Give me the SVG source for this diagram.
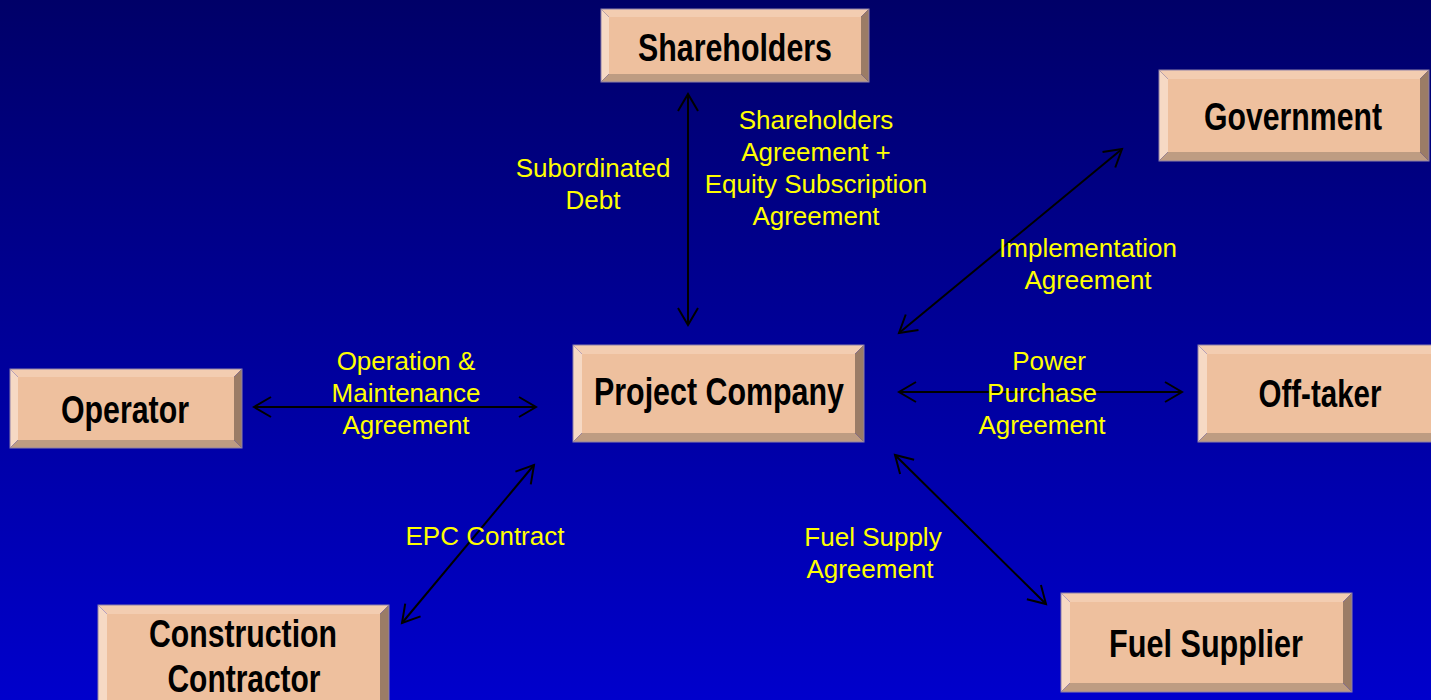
<svg xmlns="http://www.w3.org/2000/svg" width="1431" height="700" viewBox="0 0 1431 700">
  <defs>
    <linearGradient id="bg" x1="0" y1="0" x2="0" y2="1">
      <stop offset="0" stop-color="#000068"/>
      <stop offset="1" stop-color="#0000CC"/>
    </linearGradient>
    <marker id="head" markerUnits="userSpaceOnUse" viewBox="-20 -12 24 24" markerWidth="24" markerHeight="24" refX="0" refY="0" orient="auto-start-reverse">
      <path d="M-17,-10 L0,0 L-17,10" fill="none" stroke="#000" stroke-width="2"/>
    </marker>
    <style>
      .face { fill: #EEC09E; }
      .top { fill: #F3CDB1; }
      .left { fill: #F6D9C4; }
      .right { fill: #9B7C66; }
      .bottom { fill: #BE9C82; }
      .edge { fill: none; stroke: #8E80A8; stroke-width: 1; }
      .name { font-family: "Liberation Sans", Arial, sans-serif; font-weight: bold; font-size: 38px; fill: #000; text-anchor: middle; }
      .lbl { font-family: "Liberation Sans", Arial, sans-serif; font-size: 26px; fill: #FFFF00; text-anchor: middle; }
      .link { stroke: #000; stroke-width: 2; fill: none; marker-start: url(#head); marker-end: url(#head); }
    </style>
  </defs>

  <rect x="0" y="0" width="1431" height="700" fill="url(#bg)"/>

  <!-- connectors -->
  <g id="connectors">
    <line class="link" x1="688" y1="94" x2="688" y2="325"/>
    <line class="link" x1="1122" y1="149" x2="899" y2="333"/>
    <line class="link" x1="254" y1="407" x2="536" y2="407"/>
    <line class="link" x1="899" y1="392" x2="1182" y2="392"/>
    <line class="link" x1="534" y1="465" x2="402" y2="623"/>
    <line class="link" x1="895" y1="455" x2="1046" y2="604"/>
  </g>

  <!-- connector labels -->
  <g id="labels">
    <text class="lbl" x="593" y="177">Subordinated</text>
    <text class="lbl" x="593" y="209">Debt</text>
    <text class="lbl" x="816" y="129">Shareholders</text>
    <text class="lbl" x="816" y="161">Agreement +</text>
    <text class="lbl" x="816" y="193">Equity Subscription</text>
    <text class="lbl" x="816" y="225">Agreement</text>
    <text class="lbl" x="1088" y="257">Implementation</text>
    <text class="lbl" x="1088" y="289">Agreement</text>
    <text class="lbl" x="406" y="370">Operation &amp;</text>
    <text class="lbl" x="406" y="402">Maintenance</text>
    <text class="lbl" x="406" y="434">Agreement</text>
    <text class="lbl" x="1049" y="370">Power</text>
    <text class="lbl" x="1042" y="402">Purchase</text>
    <text class="lbl" x="1042" y="434">Agreement</text>
    <text class="lbl" x="485" y="545">EPC Contract</text>
    <text class="lbl" x="873" y="546">Fuel Supply</text>
    <text class="lbl" x="870" y="578">Agreement</text>
  </g>

  <!-- Shareholders -->
  <g id="shareholders">
    <rect class="face" x="609" y="17" width="252" height="57"/>
    <polygon class="top" points="601,9 869,9 861,17 609,17"/>
    <polygon class="left" points="601,9 609,17 609,74 601,82"/>
    <polygon class="right" points="869,9 869,82 861,74 861,17"/>
    <polygon class="bottom" points="601,82 869,82 861,74 609,74"/>
    <rect class="edge" x="601" y="9" width="268" height="73"/>
    <text class="name" x="735" y="61" textLength="194" lengthAdjust="spacingAndGlyphs">Shareholders</text>
  </g>

  <!-- Government -->
  <g id="government">
    <rect class="face" x="1168" y="79" width="252" height="73"/>
    <polygon class="top" points="1159,70 1429,70 1420,79 1168,79"/>
    <polygon class="left" points="1159,70 1168,79 1168,152 1159,161"/>
    <polygon class="right" points="1429,70 1429,161 1420,152 1420,79"/>
    <polygon class="bottom" points="1159,161 1429,161 1420,152 1168,152"/>
    <rect class="edge" x="1159" y="70" width="270" height="91"/>
    <text class="name" x="1293" y="130" textLength="178" lengthAdjust="spacingAndGlyphs">Government</text>
  </g>

  <!-- Project Company -->
  <g id="project-company">
    <rect class="face" x="582" y="354" width="273" height="79"/>
    <polygon class="top" points="573,345 864,345 855,354 582,354"/>
    <polygon class="left" points="573,345 582,354 582,433 573,442"/>
    <polygon class="right" points="864,345 864,442 855,433 855,354"/>
    <polygon class="bottom" points="573,442 864,442 855,433 582,433"/>
    <rect class="edge" x="573" y="345" width="291" height="97"/>
    <text class="name" x="719" y="405" font-size="40" textLength="250" lengthAdjust="spacingAndGlyphs">Project Company</text>
  </g>

  <!-- Operator -->
  <g id="operator">
    <rect class="face" x="18" y="377" width="216" height="63"/>
    <polygon class="top" points="10,369 242,369 234,377 18,377"/>
    <polygon class="left" points="10,369 18,377 18,440 10,448"/>
    <polygon class="right" points="242,369 242,448 234,440 234,377"/>
    <polygon class="bottom" points="10,448 242,448 234,440 18,440"/>
    <rect class="edge" x="10" y="369" width="232" height="79"/>
    <text class="name" x="125" y="423" textLength="128" lengthAdjust="spacingAndGlyphs">Operator</text>
  </g>

  <!-- Off-taker -->
  <g id="off-taker">
    <rect class="face" x="1207" y="354" width="244" height="79"/>
    <polygon class="top" points="1198,345 1460,345 1451,354 1207,354"/>
    <polygon class="left" points="1198,345 1207,354 1207,433 1198,442"/>
    <polygon class="right" points="1460,345 1460,442 1451,433 1451,354"/>
    <polygon class="bottom" points="1198,442 1460,442 1451,433 1207,433"/>
    <rect class="edge" x="1198" y="345" width="262" height="97"/>
    <text class="name" x="1320" y="407" textLength="123" lengthAdjust="spacingAndGlyphs">Off-taker</text>
  </g>

  <!-- Construction Contractor -->
  <g id="construction-contractor">
    <rect class="face" x="107" y="614" width="273" height="87"/>
    <polygon class="top" points="98,605 389,605 380,614 107,614"/>
    <polygon class="left" points="98,605 107,614 107,701 98,710"/>
    <polygon class="right" points="389,605 389,710 380,701 380,614"/>
    <polygon class="bottom" points="98,710 389,710 380,701 107,701"/>
    <rect class="edge" x="98" y="605" width="291" height="105"/>
    <text class="name" x="243" y="647" textLength="188" lengthAdjust="spacingAndGlyphs">Construction</text>
    <text class="name" x="244" y="692" textLength="153" lengthAdjust="spacingAndGlyphs">Contractor</text>
  </g>

  <!-- Fuel Supplier -->
  <g id="fuel-supplier">
    <rect class="face" x="1070" y="602" width="273" height="81"/>
    <polygon class="top" points="1061,593 1352,593 1343,602 1070,602"/>
    <polygon class="left" points="1061,593 1070,602 1070,683 1061,692"/>
    <polygon class="right" points="1352,593 1352,692 1343,683 1343,602"/>
    <polygon class="bottom" points="1061,692 1352,692 1343,683 1070,683"/>
    <rect class="edge" x="1061" y="593" width="291" height="99"/>
    <text class="name" x="1206" y="657" textLength="194" lengthAdjust="spacingAndGlyphs">Fuel Supplier</text>
  </g>
</svg>
